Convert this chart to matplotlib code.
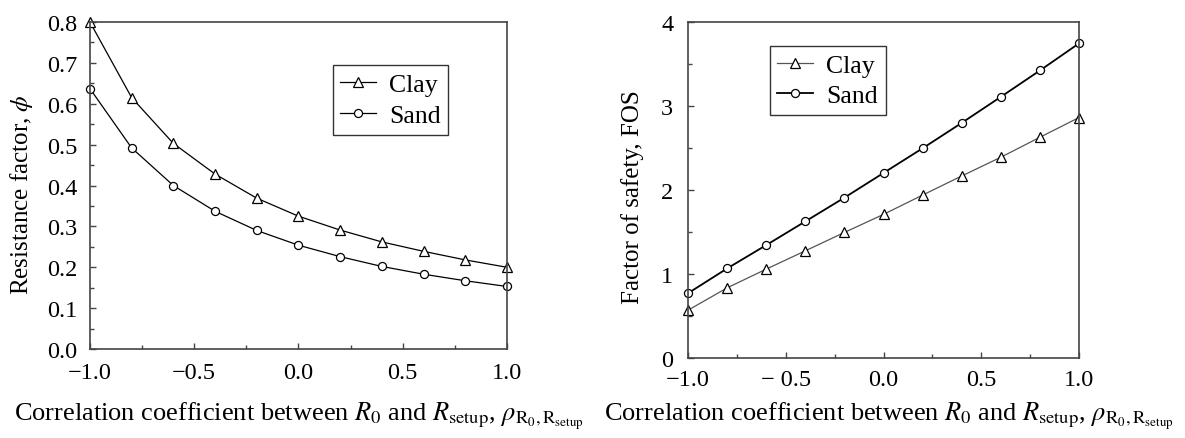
import numpy as np
import matplotlib.pyplot as plt
from matplotlib.ticker import MultipleLocator

plt.rcParams['font.family'] = ['Liberation Serif', 'DejaVu Serif']
plt.rcParams['mathtext.fontset'] = 'stix'

# correlation coefficient between R0 and Rsetup
rho = [-1.0, -0.8, -0.6, -0.4, -0.2, 0.0, 0.2, 0.4, 0.6, 0.8, 1.0]

# resistance factor (left)
phi_clay = [0.800, 0.615, 0.503, 0.428, 0.369, 0.325, 0.291, 0.262, 0.239, 0.218, 0.200]
phi_sand = [0.637, 0.492, 0.400, 0.337, 0.290, 0.254, 0.226, 0.202, 0.183, 0.167, 0.153]

# factor of safety (right)
fos_clay = [0.569, 0.835, 1.058, 1.276, 1.495, 1.710, 1.940, 2.167, 2.390, 2.628, 2.863]
fos_sand = [0.771, 1.066, 1.344, 1.626, 1.909, 2.203, 2.497, 2.799, 3.109, 3.423, 3.746]

xticks = [-1.0, -0.5, 0.0, 0.5, 1.0]
xlab = r"Correlation coefficient between $R_0$ and $R_{\mathrm{setup}}$, $\rho_{\mathrm{R_0,R_{setup}}}$"

fig = plt.figure(figsize=(11.85, 4.39), dpi=100)
ax1 = fig.add_axes([0.0759, 0.2027, 0.3519, 0.7449])
ax2 = fig.add_axes([0.5806, 0.1822, 0.3300, 0.7654])

fs_tick = 17.5
fs_xlab = 19
fs_ylab = 18
fs_leg = 18.5


def style(ax, xpad, ypad):
    for s in ax.spines.values():
        s.set_linewidth(1.2)
        s.set_color('#444444')
    ax.tick_params(which='major', direction='in', length=4.3, width=1, labelsize=fs_tick,
                   top=False, right=False, color='#444444')
    ax.tick_params(axis='y', which='major', pad=ypad)
    ax.tick_params(axis='x', which='major', pad=xpad)
    ax.tick_params(which='minor', direction='in', length=2.9, width=1, top=False, right=False,
                   color='#444444')
    ax.xaxis.set_minor_locator(MultipleLocator(0.25))
    ax.set_xlim(-1.0, 1.0)
    ax.set_xticks(xticks)


def legend(ax, anchor):
    leg = ax.legend(loc='upper left', bbox_to_anchor=anchor, fontsize=fs_leg,
                    frameon=True, fancybox=False, edgecolor='black', handlelength=1.4,
                    borderpad=0.3, labelspacing=0.3, handletextpad=0.5, borderaxespad=0)
    leg.get_frame().set_linewidth(1.0)


# left panel
ax1.plot(rho, phi_clay, color='black', lw=0.9, marker='^', ms=7, mfc='white',
         mec='black', mew=0.9, label='Clay', clip_on=False)
ax1.plot(rho, phi_sand, color='black', lw=0.9, marker='o', ms=5.8, mfc='white',
         mec='black', mew=0.9, label='Sand', clip_on=False)
style(ax1, 9, 9)
ax1.set_ylim(0.0, 0.8)
ax1.yaxis.set_minor_locator(MultipleLocator(0.05))
ax1.set_xticklabels(['\u22121.0', '\u22120.5', '0.0', '0.5', '1.0'])
yt1 = np.arange(0, 0.81, 0.1)
ax1.set_yticks(yt1)
ax1.set_yticklabels(['%.1f' % v for v in yt1])
ax1.set_ylabel(r"Resistance factor, $\phi$", fontsize=fs_ylab, va='center')
ax1.yaxis.set_label_coords(-0.163, 0.475)
ax1.set_xlabel(xlab, fontsize=fs_xlab, va='baseline')
ax1.xaxis.set_label_coords(0.5, -0.217)
legend(ax1, (0.582, 0.867))

# right panel
ax2.plot(rho, fos_clay, color='#555555', lw=0.9, marker='^', ms=7, mfc='white',
         mec='black', mew=0.9, label='Clay', clip_on=False)
ax2.plot(rho, fos_sand, color='black', lw=1.3, marker='o', ms=5.8, mfc='white',
         mec='black', mew=0.9, label='Sand', clip_on=False)
style(ax2, 7.6, 10.5)
ax2.set_ylim(0, 4)
ax2.yaxis.set_major_locator(MultipleLocator(1))
ax2.yaxis.set_minor_locator(MultipleLocator(0.5))
ax2.set_xticklabels(['\u22121.0', '\u2212 0.5', '0.0', '0.5', '1.0'])
ax2.set_ylabel("Factor of safety, FOS", fontsize=fs_ylab, va='center')
ax2.yaxis.set_label_coords(-0.143, 0.482)
ax2.set_xlabel(xlab, fontsize=fs_xlab, va='baseline')
ax2.xaxis.set_label_coords(0.515, -0.1845)
legend(ax2, (0.209, 0.929))

fig.savefig('out.png', dpi=100)
